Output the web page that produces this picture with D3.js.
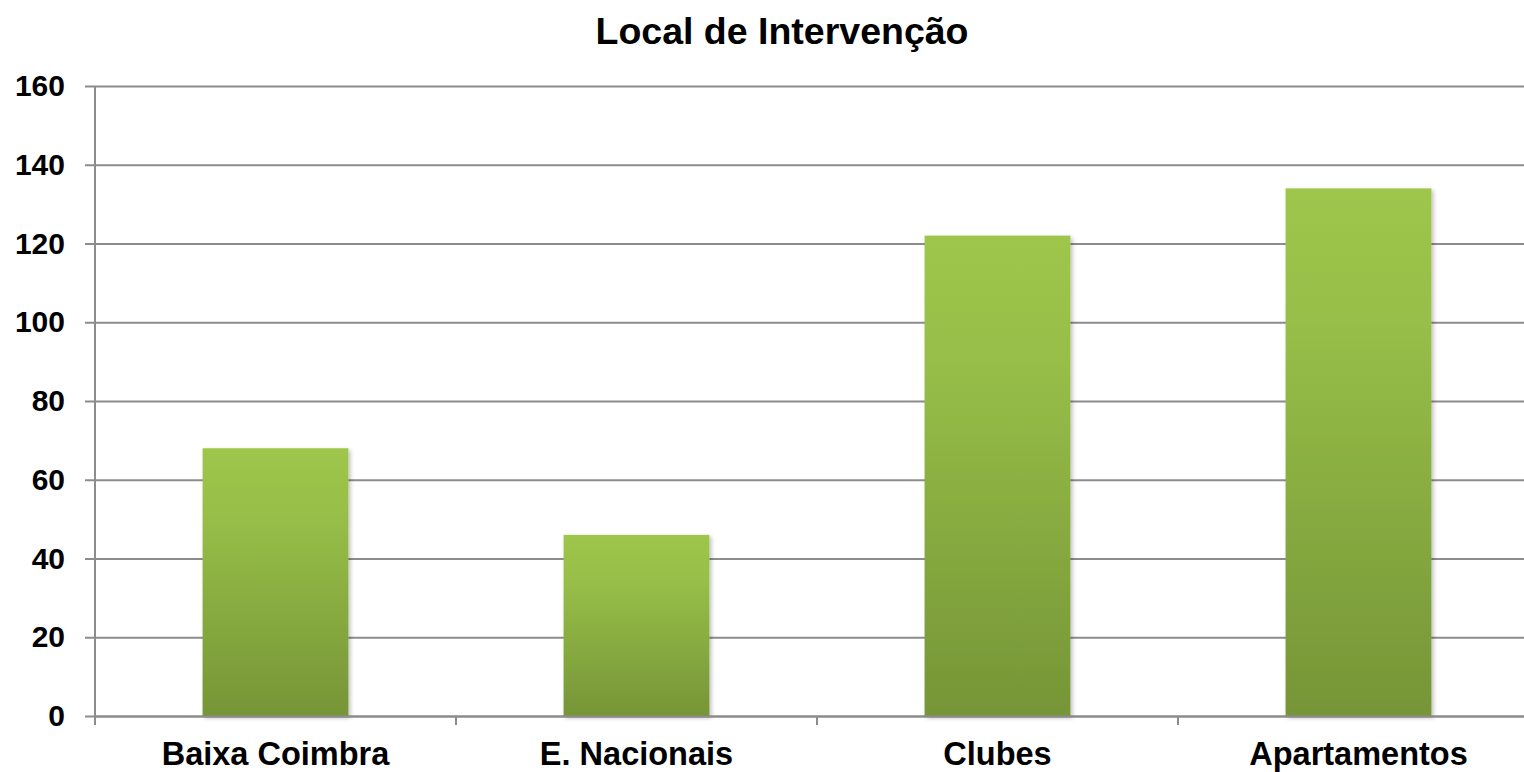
<!DOCTYPE html>
<html>
<head>
<meta charset="utf-8">
<script src="https://cdn.jsdelivr.net/npm/d3@7"></script>
<style>
  body { margin: 0; background: #fff; }
  text { font-family: "Liberation Sans", Arial, sans-serif; font-weight: bold; fill: #000; }
</style>
</head>
<body>
<div id="chart"></div>
<script>
  // chart data
  var chartTitle = 'Local de Intervenção',
      categories = ['Baixa Coimbra', 'E. Nacionais', 'Clubes', 'Apartamentos'],
      values = [68, 46, 122, 134],
      yTicks = [0, 20, 40, 60, 80, 100, 120, 140, 160];

  // the plot runs a little past the right edge of the picture, as in the original
  var W = 1524, H = 772,
      margin = {top: 86, left: 95, bottom: 56},
      width = 1444,
      height = H - margin.top - margin.bottom;

  var svg = d3.select('#chart').append('svg')
    .attr('width', W)
    .attr('height', H);

  var defs = svg.append('defs');

  // bar gradient, lighter at the top
  var grad = defs.append('linearGradient')
    .attr('id', 'barGrad')
    .attr('x1', 0).attr('y1', 0).attr('x2', 0).attr('y2', 1);
  grad.append('stop').attr('offset', '0%').attr('stop-color', '#9ec64c');
  grad.append('stop').attr('offset', '25%').attr('stop-color', '#97bf48');
  grad.append('stop').attr('offset', '100%').attr('stop-color', '#769537');

  var shadow = defs.append('filter')
    .attr('id', 'barShadow')
    .attr('x', '-10%').attr('y', '-10%').attr('width', '130%').attr('height', '130%');
  shadow.append('feDropShadow')
    .attr('dx', 2).attr('dy', 2).attr('stdDeviation', 2)
    .attr('flood-color', '#000').attr('flood-opacity', 0.25);

  var g = svg.append('g')
    .attr('transform', 'translate(' + margin.left + ',' + margin.top + ')');

  var x = d3.scaleBand()
    .domain(categories)
    .range([0, width])
    .paddingInner(0.596)
    .paddingOuter(0.298);

  var y = d3.scaleLinear()
    .domain([0, 160])
    .range([height, 0]);

  // horizontal gridlines + y axis
  var yAxis = g.append('g')
    .attr('class', 'axis y')
    .call(d3.axisLeft(y)
      .tickValues(yTicks)
      .tickSize(-(width + 10))
      .tickPadding(20));
  yAxis.select('.domain').remove();
  yAxis.selectAll('.tick line')
    .attr('x1', -10)
    .attr('x2', width)
    .attr('stroke', '#8c8c8c')
    .attr('stroke-width', 2);
  yAxis.selectAll('.tick text')
    .style('font-size', '30px')
    .attr('x', -30);

  // vertical axis line
  g.append('line')
    .attr('x1', 0).attr('x2', 0)
    .attr('y1', 0).attr('y2', height)
    .attr('stroke', '#8c8c8c')
    .attr('stroke-width', 2);

  // bars
  g.selectAll('.bar')
    .data(values)
    .enter().append('rect')
      .attr('class', 'bar')
      .attr('x', function(d, i) { return x(categories[i]); })
      .attr('width', x.bandwidth())
      .attr('y', function(d) { return y(d); })
      .attr('height', function(d) { return height - y(d); })
      .attr('fill', 'url(#barGrad)')
      .attr('filter', 'url(#barShadow)');

  // x axis, ticks on the category boundaries
  var xAxis = g.append('g')
    .attr('class', 'axis x')
    .attr('transform', 'translate(0,' + height + ')')
    .call(d3.axisBottom(x).tickSize(0).tickPadding(26));
  xAxis.select('.domain')
    .attr('stroke', '#8c8c8c')
    .attr('stroke-width', 2);
  xAxis.selectAll('.tick text')
    .style('font-size', '32.5px')
    .attr('dy', '0.71em');

  var step = x.step();
  xAxis.selectAll('.boundary')
    .data(d3.range(categories.length + 1))
    .enter().append('line')
      .attr('class', 'boundary')
      .attr('x1', function(i) { return i * step; })
      .attr('x2', function(i) { return i * step; })
      .attr('y1', 0)
      .attr('y2', 9)
      .attr('stroke', '#8c8c8c')
      .attr('stroke-width', 2);

  // title
  svg.append('text')
    .attr('x', 782)
    .attr('y', 44)
    .attr('text-anchor', 'middle')
    .style('font-size', '37.5px')
    .text(chartTitle);
</script>
</body>
</html>
